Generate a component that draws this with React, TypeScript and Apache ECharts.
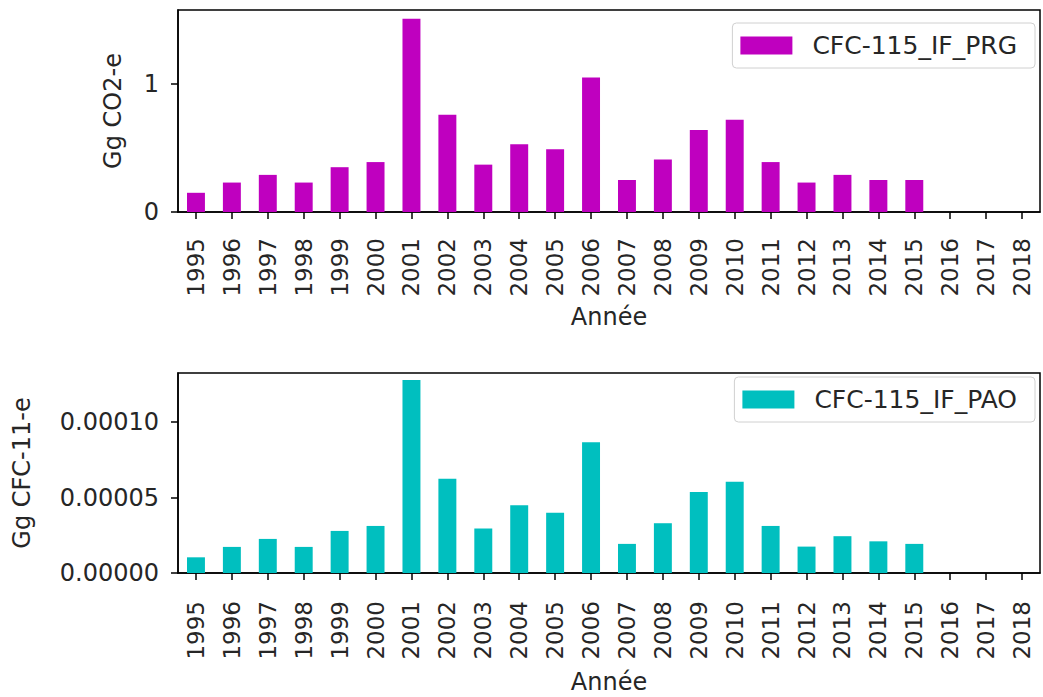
import React, { useEffect, useRef } from "react";
import * as echarts from "echarts";

const years = ["1995","1996","1997","1998","1999","2000","2001","2002","2003","2004","2005","2006","2007","2008","2009","2010","2011","2012","2013","2014","2015","2016","2017","2018"];
const prgValues = [0.15,0.23,0.29,0.23,0.35,0.39,1.51,0.76,0.37,0.53,0.49,1.05,0.25,0.41,0.64,0.72,0.39,0.23,0.29,0.25,0.25,0,0,0];
const paoValues = [1.04e-5,1.73e-5,2.26e-5,1.73e-5,2.79e-5,3.12e-5,12.8e-5,6.25e-5,2.95e-5,4.5e-5,3.99e-5,8.67e-5,1.93e-5,3.3e-5,5.37e-5,6.05e-5,3.12e-5,1.75e-5,2.44e-5,2.1e-5,1.93e-5,0,0,0];
const prgTicks = [0, 1];
const paoTicks = [0, 0.00005, 0.0001];

const FONT = "DejaVu Sans";
const TXT = "#262626";

export default function App() {
  const ref = useRef<HTMLDivElement>(null);
  useEffect(() => {
    if (!ref.current) return;
    const chart = echarts.init(ref.current, undefined, { renderer: "svg" });
    const xAxisBase = (gridIndex: number, nameGap: number, margin: number) => ({
      type: "category",
      gridIndex,
      data: years,
      name: "Année",
      nameLocation: "middle",
      nameGap,
      nameTextStyle: { fontFamily: FONT, fontSize: 24, color: TXT },
      axisLine: { show: true, lineStyle: { color: "#000", width: 1.5 } },
      axisTick: { show: true, alignWithLabel: true, length: 7, lineStyle: { color: "#000", width: 1.5 } },
      axisLabel: { rotate: 90, margin, fontFamily: FONT, fontSize: 23, color: TXT, interval: 0 },
      splitLine: { show: false },
    });
    const yAxisBase = (gridIndex: number, name: string, max: number, ticks: number[], fmt: (v: number) => string, nameGap: number) => ({
      type: "value",
      gridIndex,
      min: 0,
      max,
      name,
      nameLocation: "middle",
      nameGap,
      nameTextStyle: { fontFamily: FONT, fontSize: 24, color: TXT },
      axisLine: { show: true, lineStyle: { color: "#000", width: 1.5 } },
      axisTick: { show: true, length: 7, customValues: ticks, lineStyle: { color: "#000", width: 1.5 } },
      axisLabel: { customValues: ticks, margin: 19, fontFamily: FONT, fontSize: 24, color: TXT, formatter: fmt },
      splitLine: { show: false },
    });
    const legendBase = (name: string, top: number) => ({
      data: [name], right: 8, top, orient: "vertical",
      icon: "rect", itemWidth: 52, itemHeight: 18, itemGap: 20,
      padding: [10, 18, 10, 8], borderColor: "#d0d0d0", borderWidth: 1, borderRadius: 4,
      textStyle: { fontFamily: FONT, fontSize: 25, color: TXT, padding: [0, 0, 0, 15] },
    });
    chart.setOption({
      animation: false,
      backgroundColor: "#fff",
      grid: [
        { left: 178, right: 3, top: 10, height: 202, show: true, borderColor: "#000", borderWidth: 1.5, outerBoundsMode: "none", containLabel: false },
        { left: 178, right: 3, top: 373, height: 200, show: true, borderColor: "#000", borderWidth: 1.5, outerBoundsMode: "none", containLabel: false },
      ],
      legend: [legendBase("CFC-115_IF_PRG", 23), legendBase("CFC-115_IF_PAO", 377)],
      xAxis: [xAxisBase(0, 93, 26), xAxisBase(1, 97, 28)],
      yAxis: [
        yAxisBase(0, "Gg CO2-e", 1.578, prgTicks, (v: number) => String(Math.round(v)), 53),
        yAxisBase(1, "Gg CFC-11-e", 0.0001326, paoTicks, (v: number) => v.toFixed(5), 144),
      ],
      series: [
        { name: "CFC-115_IF_PRG", type: "bar", xAxisIndex: 0, yAxisIndex: 0, data: prgValues, barWidth: "50%", itemStyle: { color: "#bf00bf" } },
        { name: "CFC-115_IF_PAO", type: "bar", xAxisIndex: 1, yAxisIndex: 1, data: paoValues, barWidth: "50%", itemStyle: { color: "#00bfbf" } },
      ],
    });
    return () => chart.dispose();
  }, []);
  return <div ref={ref} style={{ position: "fixed", left: 0, top: 0, width: 1043, height: 697 }} />;
}
